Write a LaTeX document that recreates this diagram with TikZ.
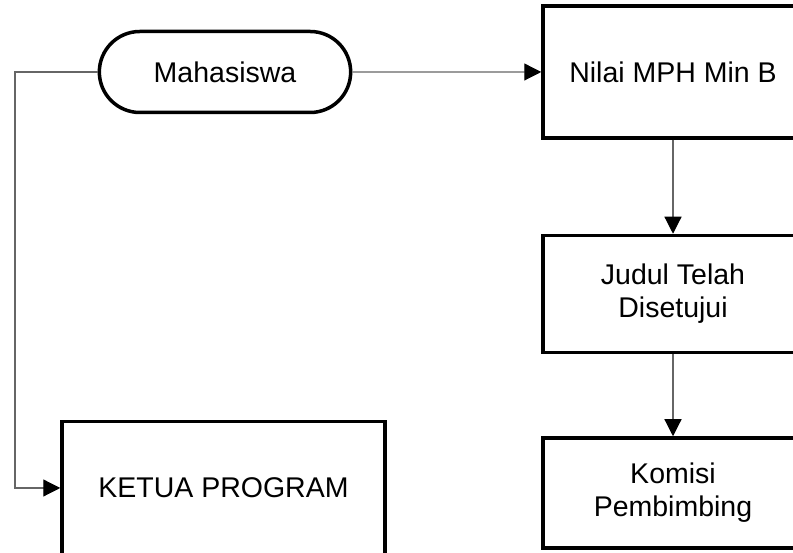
\documentclass[tikz,border=0pt]{standalone}
\usepackage{fontspec}
\setmainfont{Liberation Sans}
\usetikzlibrary{arrows.meta}
\usetikzlibrary{positioning}
\usetikzlibrary{shapes.misc}

\begin{document}
\begin{tikzpicture}[x=1pt,y=1pt,>={Triangle[length=17pt,width=17pt,color=black]},
                    font=\fontsize{28.5}{33}\selectfont,node distance=90pt,
                    term node/.style={rounded rectangle,draw,line width=3.5pt,minimum width=258pt,minimum height=81pt},
                    box node/.style={rectangle,draw,line width=3.5pt,align=center,minimum width=260pt},
                    flow line/.style={->,draw=black!60,line width=1.2pt}]

                    \useasboundingbox (0,0) rectangle (793,553);
                    \clip (0,0) rectangle (793,553);

                    \node[term node] (mhs) at (225,481) {Mahasiswa};
                    \node[box node,minimum height=132pt] (nilai) at (673,481) {Nilai MPH Min B};
                    \node[box node,minimum height=117pt] (judul) [below=94pt of nilai] {Judul Telah\\Disetujui};
                    \node[box node,minimum height=110pt] (komisi) [below=82pt of judul] {Komisi\\Pembimbing};
                    \node[box node,minimum width=323pt,minimum height=133pt] (ketua) at (223.5,65) {KETUA PROGRAM};
                    \coordinate (turn) at (15,481);

                    \path[flow line]
                      (mhs) edge[] (nilai)
                      (nilai) edge[] (judul)
                      (judul) edge[] (komisi)
                    ;
                    \draw[flow line] (mhs.west) -- (turn) |- (ketua.west);
                    \end{tikzpicture}
\end{document}
